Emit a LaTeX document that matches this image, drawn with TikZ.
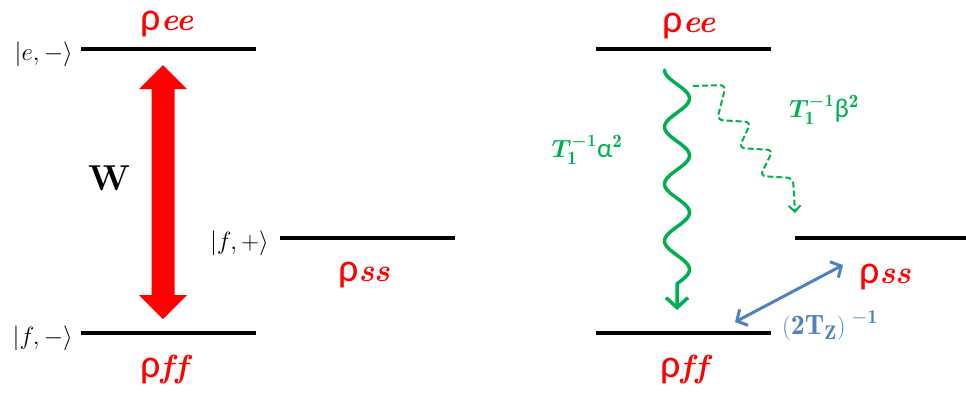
\documentclass[tikz,border=0pt]{standalone}
\usepackage{amsmath}
\usepackage{bm}
\usepackage{fontspec}
\usetikzlibrary{arrows.meta}
\newfontfamily\calfont{Carlito}
\definecolor{myred}{RGB}{255,0,0}
\definecolor{mygreen}{RGB}{0,176,80}
\definecolor{myblue}{RGB}{79,129,189}
\newcommand{\rholab}[1]{{\fontsize{40}{40}\selectfont\calfont ρ}{\fontsize{32}{32}\selectfont\bfseries\itshape #1}}
\newcommand{\ketlab}[1]{{\fontsize{28}{28}\selectfont$|#1\rangle$}}
\tikzset{
  level/.style={line width=4pt, black},
  rholabel/.style={text=myred, inner sep=0pt, anchor=base},
  ketlabel/.style={inner sep=0pt, anchor=east},
  greenlab/.style={text=mygreen, inner sep=0pt, anchor=base},
  greenwave/.style={mygreen, line width=3.5pt, line cap=round, line join=round},
  dashwave/.style={mygreen, line width=2pt, dash pattern=on 6pt off 3pt, rounded corners=6pt},
}
\begin{document}
\begin{tikzpicture}[x=1pt, y=-1pt]
\useasboundingbox (0,0) rectangle (966,397);
% ---------- left diagram ----------
\coordinate (L1a) at (81,49);  \coordinate (L1b) at (256,49);
\coordinate (L2a) at (81,333); \coordinate (L2b) at (256,333);
\coordinate (L3a) at (280,238); \coordinate (L3b) at (455,238);
\draw[level] (L1a) -- (L1b);
\draw[level] (L2a) -- (L2b);
\draw[level] (L3a) -- (L3b);
\node[ketlabel] (ke) at (73,54) {\ketlab{e,-}};
\node[ketlabel] (kf1) at (73,338) {\ketlab{f,-}};
\node[ketlabel] (kf2) at (269,243) {\ketlab{f,+}};
\node[rholabel] (ree1) at (167,30) {\rholab{ee}};
\node[rholabel] (rff1) at (164,377) {\rholab{\mbox{f}\kern2pt\mbox{f}}};
\node[rholabel] (rss1) at (364,281) {\rholab{ss}};
% red double arrow
\coordinate (rt) at (163,65);
\fill[myred] (rt) -- ++(24,24) -- ++(-12.5,0) -- ++(0,206) -- ++(12.5,0) -- ++(-24,24)
  -- ++(-24,-24) -- ++(12.5,0) -- ++(0,-206) -- ++(-12.5,0) -- cycle;
\node[inner sep=0pt] (W) at (109,178) {\fontsize{36}{36}\selectfont\bfseries W};
% ---------- right diagram ----------
\coordinate (R1a) at (596,49);  \coordinate (R1b) at (771,49);
\coordinate (R2a) at (596,333); \coordinate (R2b) at (771,333);
\coordinate (R3a) at (795,238); \coordinate (R3b) at (966,238);
\draw[level] (R1a) -- (R1b);
\draw[level] (R2a) -- (R2b);
\draw[level] (R3a) -- (R3b);
\node[rholabel] (ree2) at (689,32) {\rholab{ee}};
\node[rholabel] (rff2) at (684,377) {\rholab{\mbox{f}\kern2pt\mbox{f}}};
\node[rholabel] (rss2) at (885,283) {\rholab{ss}};
% solid green wave
\coordinate (gs) at (677,70);
\coordinate (ge) at (677,310);
\begin{scope}[shift={(gs)}]
\draw[greenwave, -{Straight Barb[length=10pt,width=22pt]}]
  plot[variable=\t, domain=0:213.75, samples=90, smooth] ({-12.5*cos(6.31579*\t)},{\t})
  -- (ge);
\end{scope}
% dashed green wave
\coordinate (ds) at (693,86);
\coordinate (de) at (795,213);
\draw[dashwave, -{Straight Barb[length=6pt,width=12pt]}]
  (ds) -- (726,85) -- (717,120) -- (751,122) -- (739,148) -- (773,150) -- (760,176) -- (793,178) -- (de);
\node[greenlab] (ta) at (587,157) {\fontsize{27}{27}\selectfont$\bm{T}_{\mathbf{1}}^{\bm{-1}}$\calfont α$^{\mathbf{2}}$};
\node[greenlab] (tb) at (824,117) {\fontsize{27}{27}\selectfont$\bm{T}_{\mathbf{1}}^{\bm{-1}}$\calfont β$^{\mathbf{2}}$};
% blue double arrow
\coordinate (bA) at (735,322);
\coordinate (bB) at (843,265);
\draw[myblue, line width=3pt, {Straight Barb[length=8pt,width=18pt]}-{Straight Barb[length=8pt,width=18pt]}] (bA) -- (bB);
\node[text=myblue, inner sep=0pt] (tz) at (830,326) {\fontsize{28}{28}\selectfont$\mathbf{(2T_{Z})}^{\;\mathbf{-1}}$};
\end{tikzpicture}
\end{document}
